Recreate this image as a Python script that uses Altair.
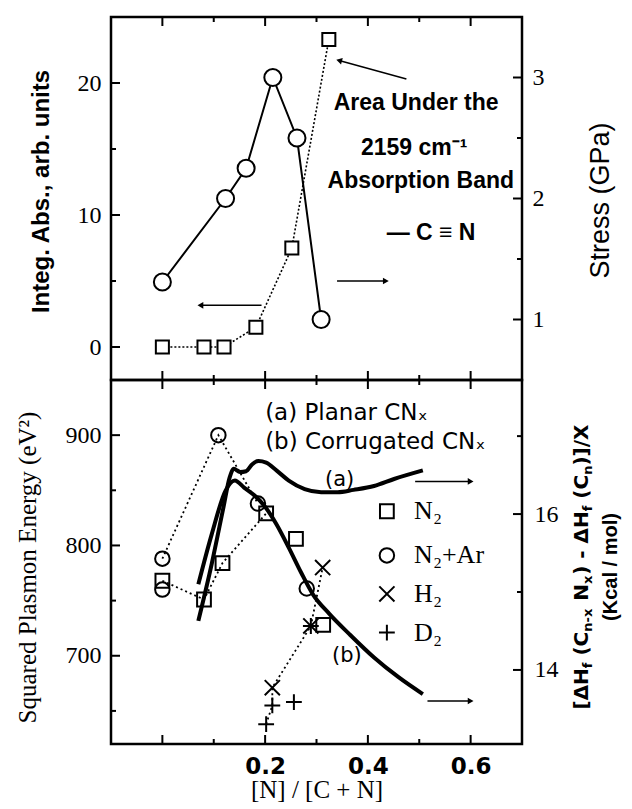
import altair as alt
import pandas as pd

# ---------------- domains & tick values ----------------
X_DOMAIN = [-0.1, 0.7]
ABS_DOMAIN = [-2.5, 25]
STRESS_DOMAIN = [0.5, 3.5]
PE_DOMAIN = [620, 950]
DH_DOMAIN = [13.05, 17.72]

x_major = [0.0, 0.2, 0.4, 0.6]
x_minor = [0.1, 0.3, 0.5]
x_labels = [0.2, 0.4, 0.6]
abs_major = [0, 10, 20]
abs_minor = [5, 15]
stress_major = [1, 2, 3]
stress_minor = [1.5, 2.5]
pe_major = [700, 800, 900]
pe_minor = [650, 750, 850]
dh_major = [14, 16]
dh_minor = [15, 17]

# ---------------- top panel data ----------------
abs_x = [0.0, 0.081, 0.120, 0.182, 0.252, 0.324]
abs_y = [0.0, 0.0, 0.0, 1.5, 7.5, 23.3]
stress_x = [0.0, 0.123, 0.163, 0.215, 0.262, 0.309]
stress_y = [1.31, 2.0, 2.25, 3.0, 2.5, 1.0]

ann_text = ["Area Under the", "2159 cm\u207b\u00b9", "Absorption Band", "\u2014 C \u2261 N"]
ann_x = [0.494, 0.49, 0.503, 0.523]
ann_y = [18.5, 15.1, 12.6, 8.66]

top_arrow_x0 = [0.475, 0.193, 0.340]
top_arrow_y0 = [20.3, 3.16, 5.0]
top_arrow_x1 = [0.344, 0.074, 0.435]
top_arrow_y1 = [21.7, 3.16, 5.0]
top_arrow_shape = ["triangle-left", "triangle-left", "triangle-right"]
top_arrow_angle = [15, 0, 0]

# ---------------- bottom panel data ----------------
n2_x = [0.0, 0.081, 0.117, 0.202, 0.260, 0.313]
n2_y = [768, 751, 784, 829, 806, 728]
n2ar_x = [0.0, 0.0, 0.109, 0.186, 0.281]
n2ar_y = [788, 760, 900, 838, 761]
h2_x = [0.214, 0.289, 0.312]
h2_y = [671, 727, 780]
d2_x = [0.202, 0.214, 0.256, 0.289]
d2_y = [638, 655, 658, 727]

curve_a_x = [0.070, 0.096, 0.119, 0.131, 0.139, 0.151, 0.163, 0.175, 0.187, 0.202,
             0.222, 0.246, 0.277, 0.309, 0.341, 0.372, 0.412, 0.451, 0.507]
curve_a_y = [14.63, 15.36, 16.09, 16.47, 16.58, 16.54, 16.55, 16.64, 16.68, 16.66,
             16.56, 16.43, 16.32, 16.28, 16.28, 16.31, 16.36, 16.45, 16.56]
curve_b_x = [0.070, 0.096, 0.123, 0.141, 0.159, 0.179, 0.198, 0.222, 0.246, 0.270,
             0.293, 0.325, 0.364, 0.412, 0.459, 0.507]
curve_b_y = [15.10, 15.74, 16.30, 16.43, 16.34, 16.24, 16.11, 15.87, 15.57, 15.25,
             14.97, 14.72, 14.46, 14.16, 13.91, 13.69]

legend_labels = ["N\u2082", "N\u2082+Ar", "H\u2082", "D\u2082"]
legend_y = [831, 791, 756, 721]
legend_sym_x = 0.437
legend_txt_x = 0.49

bot_notes = ["(a) Planar CN\u2093", "(b) Corrugated CN\u2093"]
bot_notes_x = [0.20, 0.20]
bot_notes_y = [920, 894]
curve_tags = ["(a)", "(b)"]
curve_tags_x = [0.345, 0.359]
curve_tags_y = [859, 700]

bot_arrow_x0 = [0.492, 0.516]
bot_arrow_x1 = [0.600, 0.600]
bot_arrow_y = [858, 659]

# ---------------- layout ----------------
W, H1, H2 = 411, 363, 364
SERIF = "Liberation Serif"
SANS = "Liberation Sans"
DSANS = "DejaVu Sans"
XPATH = "M-1,-1L1,1M-1,1L1,-1"
PPATH = "M-1,0L1,0M0,-1L0,1"

X_AXIS_BOTTOM = alt.Axis(orient="bottom", values=x_labels, format=".1f", ticks=False, domain=False,
                         grid=False, labelFont=DSANS, labelFontWeight="bold", labelFontSize=23,
                         labelColor="black", labelPadding=11, title="[N] / [C + N]", titleFont=SERIF,
                         titleFontSize=25, titleFontWeight="normal", titleColor="black", titleY=45,
                         titleBaseline="middle")


def sc(domain):
    return alt.Scale(domain=domain, nice=False, zero=False)


def xq(field="x", axis=None):
    return alt.X(f"{field}:Q", scale=sc(X_DOMAIN), axis=axis)


def yq(field, domain, axis=None):
    return alt.Y(f"{field}:Q", scale=sc(domain), axis=axis)


def tick_layers(H, xaxis, ydom_left, left_major, left_minor, ydom_right, right_major, right_minor):
    out = []
    for vals, ln in ((x_major, 9), (x_minor, 5)):
        d = pd.DataFrame({"v": vals})
        out.append(alt.Chart(d).mark_rule(color="black", strokeWidth=2).encode(
            x=xq("v", xaxis), y=alt.value(H), y2=alt.value(H - ln)))
        out.append(alt.Chart(d).mark_rule(color="black", strokeWidth=2).encode(
            x=xq("v", xaxis), y=alt.value(0), y2=alt.value(ln)))
    for vals, ln in ((left_major, 9), (left_minor, 5)):
        d = pd.DataFrame({"v": vals})
        out.append(alt.Chart(d).mark_rule(color="black", strokeWidth=2).encode(
            y=yq("v", ydom_left), x=alt.value(0), x2=alt.value(ln)))
    for vals, ln in ((right_major, 9), (right_minor, 5)):
        d = pd.DataFrame({"v": vals})
        out.append(alt.Chart(d).mark_rule(color="black", strokeWidth=2).encode(
            y=yq("v", ydom_right), x=alt.value(W), x2=alt.value(W - ln)))
    return out


def yaxis(orient, values, title, title_x, title_y, title_font, title_size, title_weight):
    return alt.Axis(orient=orient, values=values, format="d", ticks=False, domain=False,
                    grid=False, labelFont=SERIF, labelFontSize=24, labelColor="black",
                    labelPadding=10, title=title, titleFont=title_font,
                    titleFontSize=title_size, titleFontWeight=title_weight,
                    titleColor="black", titleAngle=270, titleX=title_x, titleY=title_y,
                    titleAlign="center", titleBaseline="middle")


# ================= TOP PANEL =================
abs_df = pd.DataFrame({"x": abs_x, "y": abs_y})
str_df = pd.DataFrame({"x": stress_x, "y": stress_y})

top_layers = []
top_layers.append(alt.Chart(abs_df).mark_line(color="black", strokeWidth=1.6, strokeDash=[2, 2]).encode(
    x=xq(), y=yq("y", ABS_DOMAIN, yaxis("left", abs_major, "Integ. Abs., arb. units", -70, 174,
                                        SANS, 24, "bold"))))
top_layers.append(alt.Chart(str_df).mark_line(color="black", strokeWidth=2).encode(
    x=xq(), y=yq("y", STRESS_DOMAIN, yaxis("right", stress_major, "Stress (GPa)", 78, 183,
                                           SANS, 27, "normal"))))
top_layers.append(alt.Chart(abs_df).mark_point(shape="square", filled=True, fill="white", stroke="black",
                                               strokeWidth=2, size=170, opacity=1).encode(
    x=xq(), y=yq("y", ABS_DOMAIN)))
top_layers.append(alt.Chart(str_df).mark_point(shape="circle", filled=True, fill="white", stroke="black",
                                               strokeWidth=2, size=290, opacity=1).encode(
    x=xq(), y=yq("y", STRESS_DOMAIN)))

ann_df = pd.DataFrame({"x": ann_x, "y": ann_y, "t": ann_text})
top_layers.append(alt.Chart(ann_df).mark_text(font=SANS, fontSize=23, fontWeight="bold", color="black",
                                              align="center", baseline="middle").encode(
    x=xq(), y=yq("y", ABS_DOMAIN), text="t:N"))

tarr_df = pd.DataFrame({"x0": top_arrow_x0, "y0": top_arrow_y0, "x1": top_arrow_x1, "y1": top_arrow_y1,
                        "shape": top_arrow_shape, "ang": top_arrow_angle})
top_layers.append(alt.Chart(tarr_df).mark_rule(color="black", strokeWidth=1.5).encode(
    x=xq("x0"), y=yq("y0", ABS_DOMAIN), x2="x1:Q", y2="y1:Q"))
for i in range(len(top_arrow_x1)):
    d = tarr_df.iloc[[i]]
    top_layers.append(alt.Chart(d).mark_point(shape=top_arrow_shape[i], angle=top_arrow_angle[i],
                                              filled=True, color="black", size=45, opacity=1).encode(
        x=xq("x1"), y=yq("y1", ABS_DOMAIN)))

top_layers += tick_layers(H1, None, ABS_DOMAIN, abs_major, abs_minor, STRESS_DOMAIN, stress_major,
                          stress_minor)

top = alt.layer(*top_layers).resolve_scale(y="independent").properties(width=W, height=H1)

# ================= BOTTOM PANEL =================
XA = X_AXIS_BOTTOM
ser = (["N\u2082"] * len(n2_x) + ["N\u2082+Ar"] * len(n2ar_x) + ["H\u2082"] * len(h2_x)
       + ["D\u2082"] * len(d2_x))
pts_df = pd.DataFrame({"x": n2_x + n2ar_x + h2_x + d2_x, "y": n2_y + n2ar_y + h2_y + d2_y, "s": ser})
shape_scale = alt.Scale(domain=legend_labels, range=["square", "circle", XPATH, PPATH])
size_scale = alt.Scale(domain=legend_labels, range=[190, 250, 110, 150])

n2_path = pd.DataFrame({"x": [n2_x[i] for i in (0, 1, 2, 3)], "y": [n2_y[i] for i in (0, 1, 2, 3)],
                        "o": [0, 1, 2, 3]})
ar_path = pd.DataFrame({"x": [n2ar_x[i] for i in (0, 2, 3)], "y": [n2ar_y[i] for i in (0, 2, 3)],
                        "o": [0, 1, 2]})
hd_path = pd.DataFrame({"x": [d2_x[0], d2_x[1], h2_x[0], h2_x[1], h2_x[2]],
                        "y": [d2_y[0], d2_y[1], h2_y[0], h2_y[1], h2_y[2]], "o": [0, 1, 2, 3, 4]})

ca_df = pd.DataFrame({"x": curve_a_x, "y": curve_a_y})
cb_df = pd.DataFrame({"x": curve_b_x, "y": curve_b_y})

bot_layers = []
bot_layers.append(alt.Chart(ca_df).mark_line(color="black", strokeWidth=4, interpolate="monotone").encode(
    x=xq("x", XA), y=yq("y", DH_DOMAIN,
                        alt.Axis(orient="right", values=dh_major, format="d", ticks=False,
                                 domain=False, grid=False, labelFont=SERIF, labelFontSize=24,
                                 labelColor="black", labelPadding=12, title=None))))
bot_layers.append(alt.Chart(cb_df).mark_line(color="black", strokeWidth=4, interpolate="monotone").encode(
    x=xq("x", XA), y=yq("y", DH_DOMAIN)))
for pdf in (n2_path, ar_path, hd_path):
    bot_layers.append(alt.Chart(pdf).mark_line(color="black", strokeWidth=1.8, strokeDash=[2, 3]).encode(
        x=xq("x", XA), y=yq("y", PE_DOMAIN), order="o:Q"))
bot_layers.append(alt.Chart(pts_df).mark_point(filled=False, color="black", strokeWidth=2, opacity=1).encode(
    x=xq("x", XA), y=yq("y", PE_DOMAIN, yaxis("left", pe_major, "Squared Plasmon Energy (eV\u00b2)", -84, 187,
                                             SERIF, 25, "normal")),
    shape=alt.Shape("s:N", scale=shape_scale, legend=None),
    size=alt.Size("s:N", scale=size_scale, legend=None)))

# legend
leg_df = pd.DataFrame({"s": legend_labels, "y": legend_y, "xs": [legend_sym_x] * 4, "xt": [legend_txt_x] * 4})
bot_layers.append(alt.Chart(leg_df).mark_point(filled=False, color="black", strokeWidth=2, opacity=1).encode(
    x=xq("xs", XA), y=yq("y", PE_DOMAIN),
    shape=alt.Shape("s:N", scale=shape_scale, legend=None),
    size=alt.Size("s:N", scale=size_scale, legend=None)))
bot_layers.append(alt.Chart(leg_df).mark_text(font=SERIF, fontSize=26, color="black", align="left",
                                              baseline="middle").encode(
    x=xq("xt", XA), y=yq("y", PE_DOMAIN), text="s:N"))

notes_df = pd.DataFrame({"x": bot_notes_x, "y": bot_notes_y, "t": bot_notes})
bot_layers.append(alt.Chart(notes_df).mark_text(font=DSANS, fontSize=23, color="black", align="left",
                                                baseline="middle").encode(
    x=xq("x", XA), y=yq("y", PE_DOMAIN), text="t:N"))
tags_df = pd.DataFrame({"x": curve_tags_x, "y": curve_tags_y, "t": curve_tags})
bot_layers.append(alt.Chart(tags_df).mark_text(font=DSANS, fontSize=21, color="black", align="center",
                                               baseline="middle").encode(
    x=xq("x", XA), y=yq("y", PE_DOMAIN), text="t:N"))

barr_df = pd.DataFrame({"x0": bot_arrow_x0, "x1": bot_arrow_x1, "y": bot_arrow_y})
bot_layers.append(alt.Chart(barr_df).mark_rule(color="black", strokeWidth=1.5).encode(
    x=xq("x0", XA), x2="x1:Q", y=yq("y", PE_DOMAIN)))
bot_layers.append(alt.Chart(barr_df).mark_point(shape="triangle-right", filled=True, color="black",
                                                size=45, opacity=1).encode(
    x=xq("x1", XA), y=yq("y", PE_DOMAIN)))

# right-axis title built from segments (with subscripts)
DJB = {"[": 0.457, "]": 0.457, "\u0394": 0.774, "H": 0.837, "f": 0.435, " ": 0.348, "(": 0.457,
       ")": 0.457, "C": 0.734, "n": 0.712, "-": 0.415, "x": 0.712, "N": 0.837, "/": 0.365, "X": 0.774}
title_segments = [("[\u0394H", False), ("f", True), (" (C", False), ("n-x", True), (" N", False),
                  ("x", True), (") - \u0394H", False), ("f", True), (" (C", False), ("n", True),
                  (")]/X", False)]
MAIN_FS, SUB_FS = 20, 13
widths = [sum(DJB.get(c, 0.6) for c in s) * (SUB_FS if sub else MAIN_FS) for s, sub in title_segments]
total = sum(widths)
y_start = 187 + total / 2
cum = 0.0
for (s, sub), w in zip(title_segments, widths):
    lead = len(s) - len(s.lstrip(" "))
    fs = SUB_FS if sub else MAIN_FS
    dxv = cum + lead * DJB[" "] * fs
    bot_layers.append(alt.Chart(pd.DataFrame({"t": [s.strip()]})).mark_text(
        font=DSANS, fontSize=fs, fontWeight="bold", color="black", angle=270, align="left",
        baseline="middle", dx=dxv, dy=(6 if sub else 0)).encode(
        x=alt.value(W + 60), y=alt.value(y_start), text="t:N"))
    cum += w
bot_layers.append(alt.Chart(pd.DataFrame({"t": ["(Kcal / mol)"]})).mark_text(
    font=SANS, fontSize=20, fontWeight="bold", color="black", angle=270, align="center",
    baseline="middle").encode(x=alt.value(W + 89), y=alt.value(187), text="t:N"))

bot_layers += tick_layers(H2, XA, PE_DOMAIN, pe_major, pe_minor, DH_DOMAIN, dh_major, dh_minor)

bottom = alt.layer(*bot_layers).resolve_scale(y="independent").properties(width=W, height=H2)

chart = alt.vconcat(top, bottom, spacing=0, bounds="flush").properties(
    padding={"left": 5, "top": 6, "right": 0, "bottom": 0},
).configure_view(stroke="black", strokeWidth=2.5)

chart.save("out.html", embed_options={"renderer": "svg", "actions": False})
